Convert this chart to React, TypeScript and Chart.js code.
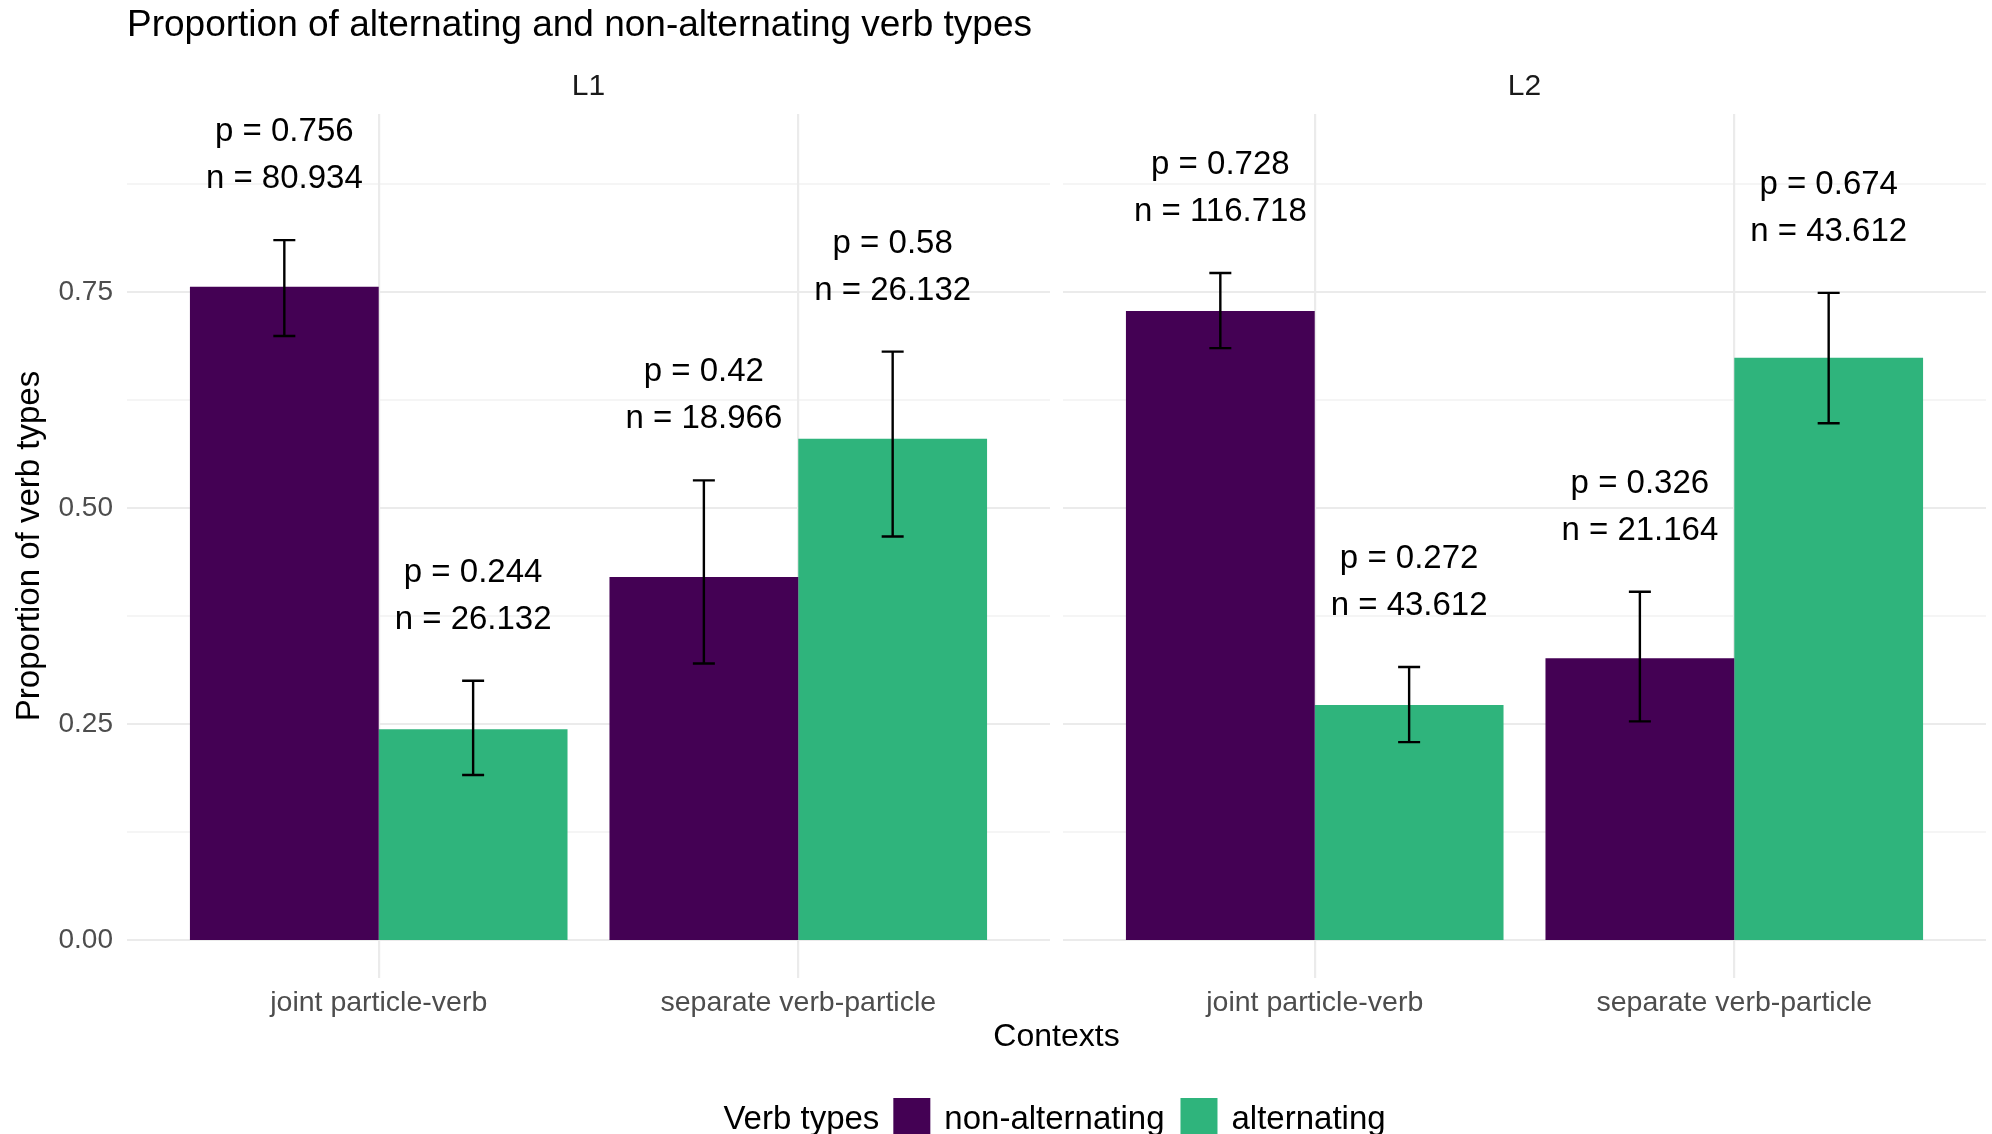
import React, { useEffect, useRef } from 'react';
import { Chart, registerables } from 'chart.js';

Chart.register(...registerables);

// ---------------- data ----------------
const panels = ['L1', 'L2'];
const contexts = ['joint particle-verb', 'separate verb-particle'];
const verbTypes = ['non-alternating', 'alternating'];
// order of values: L1 joint, L1 separate, L2 joint, L2 separate
const nonAltP = [0.756, 0.42, 0.728, 0.326];
const altP = [0.244, 0.58, 0.272, 0.674];
const nonAltN = ['80.934', '18.966', '116.718', '21.164'];
const altN = ['26.132', '26.132', '43.612', '43.612'];
const nonAltLow = [0.699, 0.32, 0.685, 0.253];
const nonAltHigh = [0.81, 0.532, 0.772, 0.403];
const altLow = [0.191, 0.467, 0.229, 0.598];
const altHigh = [0.3, 0.681, 0.316, 0.749];
const yMajorTicks = [0, 0.25, 0.5, 0.75];
const yMinorTicks = [0.125, 0.375, 0.625, 0.875];
const chartTitle = 'Proportion of alternating and non-alternating verb types';
const xTitle = 'Contexts';
const yTitle = 'Proportion of verb types';
const legendTitle = 'Verb types';

// ---------------- style / layout ----------------
const W = 1992;
const H = 1134;
const PURPLE = '#440154';
const GREEN = '#2FB47C';
const GRID = '#EBEBEB';
const FONT = '"Liberation Sans", Arial, Helvetica, sans-serif';
const EXPAND = 0.6; // discrete axis expansion
const PANEL_SPAN = contexts.length - 1 + 2 * EXPAND; // 2.2
const PANEL_GAP = 0.031;
const PANEL_STEP = PANEL_SPAN + PANEL_GAP;
const X_MIN = 1 - EXPAND;
const X_MAX = X_MIN + panels.length * PANEL_SPAN + (panels.length - 1) * PANEL_GAP;

const xPositions: number[] = [];
const xLabels: string[] = [];
panels.forEach((_, k) => {
  contexts.forEach((c, j) => {
    xPositions.push(1 + j + k * PANEL_STEP);
    xLabels.push(c);
  });
});

const series = [
  { label: verbTypes[0], color: PURPLE, p: nonAltP, n: nonAltN, lo: nonAltLow, hi: nonAltHigh },
  { label: verbTypes[1], color: GREEN, p: altP, n: altN, lo: altLow, hi: altHigh },
];

const facetPlugin = {
  id: 'facetDecor',
  beforeDatasetsDraw(chart: any) {
    const { ctx } = chart;
    const xs = chart.scales.x;
    const ys = chart.scales.y;
    ctx.save();
    ctx.strokeStyle = GRID;
    panels.forEach((_, k) => {
      const start = X_MIN + k * PANEL_STEP;
      const a = xs.getPixelForValue(start);
      const b = xs.getPixelForValue(start + PANEL_SPAN);
      const drawLine = (v: number, w: number) => {
        const py = ys.getPixelForValue(v);
        ctx.lineWidth = w;
        ctx.beginPath();
        ctx.moveTo(a, py);
        ctx.lineTo(b, py);
        ctx.stroke();
      };
      yMinorTicks.forEach((v) => drawLine(v, 1.1));
      yMajorTicks.forEach((v) => drawLine(v, 2.2));
    });
    ctx.restore();
  },
  afterDatasetsDraw(chart: any) {
    const { ctx } = chart;
    const ys = chart.scales.y;
    ctx.save();
    series.forEach((s, d) => {
      const meta = chart.getDatasetMeta(d);
      meta.data.forEach((bar: any, i: number) => {
        const cx = bar.x;
        const yHi = ys.getPixelForValue(s.hi[i]);
        const yLo = ys.getPixelForValue(s.lo[i]);
        ctx.strokeStyle = '#000';
        ctx.lineWidth = 2.4;
        ctx.beginPath();
        ctx.moveTo(cx, yHi);
        ctx.lineTo(cx, yLo);
        ctx.moveTo(cx - 11, yHi);
        ctx.lineTo(cx + 11, yHi);
        ctx.moveTo(cx - 11, yLo);
        ctx.lineTo(cx + 11, yLo);
        ctx.stroke();
        ctx.fillStyle = '#000';
        ctx.font = `33px ${FONT}`;
        ctx.textAlign = 'center';
        ctx.textBaseline = 'middle';
        ctx.fillText(`p = ${s.p[i]}`, cx, yHi - 108);
        ctx.fillText(`n = ${s.n[i]}`, cx, yHi - 61);
      });
    });
    ctx.restore();
  },
  afterDraw(chart: any) {
    const { ctx, chartArea } = chart;
    const xs = chart.scales.x;
    ctx.save();
    // title
    ctx.fillStyle = '#000';
    ctx.font = `37px ${FONT}`;
    ctx.textAlign = 'left';
    ctx.textBaseline = 'alphabetic';
    ctx.fillText(chartTitle, chartArea.left, 36);
    // strip labels
    ctx.fillStyle = '#1A1A1A';
    ctx.font = `30px ${FONT}`;
    ctx.textAlign = 'center';
    ctx.textBaseline = 'middle';
    panels.forEach((p, k) => {
      const start = X_MIN + k * PANEL_STEP;
      const cx = xs.getPixelForValue(start + PANEL_SPAN / 2);
      ctx.fillText(p, cx, chartArea.top - 27);
    });
    // legend
    const keySize = 37;
    const gapTK = 14;
    const gapKT = 14;
    const gapTT = 16;
    ctx.font = `33px ${FONT}`;
    const titleW = ctx.measureText(legendTitle).width;
    const itemW = verbTypes.map((t) => ctx.measureText(t).width);
    let total = titleW;
    itemW.forEach((w, i) => {
      total += (i === 0 ? gapTK : gapTT) + keySize + gapKT + w;
    });
    const center = (xs.left + xs.right) / 2 - 2;
    let x = center - total / 2;
    const keyTop = 1098;
    const baseY = 1129;
    ctx.textAlign = 'left';
    ctx.textBaseline = 'alphabetic';
    ctx.fillStyle = '#000';
    ctx.fillText(legendTitle, x, baseY);
    x += titleW;
    series.forEach((s, i) => {
      x += i === 0 ? gapTK : gapTT;
      ctx.fillStyle = s.color;
      ctx.fillRect(x, keyTop, keySize, keySize);
      x += keySize + gapKT;
      ctx.fillStyle = '#000';
      ctx.fillText(s.label, x, baseY);
      x += itemW[i];
    });
    ctx.restore();
  },
};

export default function App() {
  const ref = useRef<HTMLCanvasElement | null>(null);
  useEffect(() => {
    document.body.style.margin = '0';
    Chart.defaults.font.family = FONT;
    const chart = new Chart(ref.current as HTMLCanvasElement, {
      type: 'bar',
      data: {
        datasets: series.map((s) => ({
          label: s.label,
          data: xPositions.map((x, i) => ({ x, y: s.p[i] })),
          backgroundColor: s.color,
          borderWidth: 0,
          categoryPercentage: 0.9,
          barPercentage: 1.0,
        })),
      },
      options: {
        responsive: false,
        animation: false,
        layout: { padding: { top: 114, right: 6, bottom: 0, left: 0 } },
        plugins: {
          legend: { display: false },
          title: { display: false },
          tooltip: { enabled: false },
        },
        scales: {
          x: {
            type: 'linear',
            offset: false,
            min: X_MIN,
            max: X_MAX,
            afterBuildTicks: (scale: any) => {
              scale.ticks = xPositions.map((v) => ({ value: v }));
            },
            afterFit: (scale: any) => {
              scale.height = 156;
            },
            ticks: {
              autoSkip: false,
              maxRotation: 0,
              padding: 8,
              color: '#4D4D4D',
              font: { size: 28.5 },
              callback: (_v: any, i: number) => xLabels[i],
            },
            grid: { offset: false, color: GRID, lineWidth: 2.2, drawTicks: false },
            border: { display: false },
            title: {
              display: true,
              text: xTitle,
              color: '#000',
              font: { size: 32 },
              padding: { top: 0, bottom: 78 },
            },
          },
          y: {
            type: 'linear',
            min: -0.044,
            max: 0.956,
            afterBuildTicks: (scale: any) => {
              scale.ticks = yMajorTicks.map((v) => ({ value: v }));
            },
            afterFit: (scale: any) => {
              scale.width = 127;
            },
            ticks: {
              padding: 14,
              color: '#4D4D4D',
              font: { size: 28 },
              callback: (v: any) => Number(v).toFixed(2),
            },
            grid: { display: false, drawTicks: false },
            border: { display: false },
            title: {
              display: true,
              text: yTitle,
              color: '#000',
              font: { size: 33 },
              padding: { top: 10, bottom: 0 },
            },
          },
        },
      },
      plugins: [facetPlugin],
    } as any);
    return () => chart.destroy();
  }, []);
  return (
    <div style={{ position: 'absolute', left: 0, top: 0, width: W, height: H, background: '#fff' }}>
      <canvas ref={ref} width={W} height={H} />
    </div>
  );
}
